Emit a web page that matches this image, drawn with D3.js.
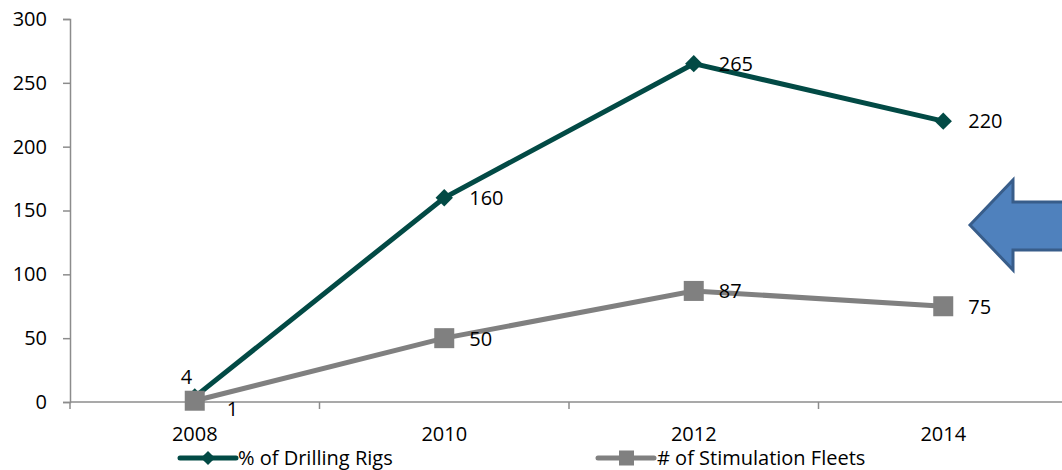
<!DOCTYPE html>
<html>
<head>
<meta charset="utf-8">
<script src="https://cdn.jsdelivr.net/npm/d3@7"></script>
<style>
  html, body { margin: 0; padding: 0; background: #fff; }
  svg { display: block; }
  text { font-family: "Open Sans", "Liberation Sans", sans-serif; fill: #000; }
</style>
</head>
<body>
<svg id="chart" width="1062" height="470"></svg>
<script>
// Chart data
const years = ["2008", "2010", "2012", "2014"];
const drillingRigs = [4, 160, 265, 220];
const stimulationFleets = [1, 50, 87, 75];
const yTicks = [0, 50, 100, 150, 200, 250, 300];
const seriesNames = ["% of Drilling Rigs", "# of Stimulation Fleets"];

const svg = d3.select("#chart");
const plotLeft = 70, plotRight = 1068, plotTop = 19, plotBottom = 402;
const teal = "#024a45", gray = "#808080", axisColor = "#8c8c8c";
const fontSize = 20;

const x = d3.scaleBand().domain(years).range([plotLeft, plotRight]);
const y = d3.scaleLinear().domain([0, 300]).range([plotBottom, plotTop]);
const cx = d => x(d) + x.bandwidth() / 2;

// Y axis
const yAxis = svg.append("g").attr("transform", `translate(${plotLeft},0)`)
  .call(d3.axisLeft(y).tickValues(yTicks).tickSize(7).tickPadding(16));
yAxis.select(".domain").attr("stroke", axisColor).attr("stroke-width", 1.5);
yAxis.selectAll(".tick line").attr("stroke", axisColor).attr("stroke-width", 1.5);
yAxis.selectAll(".tick text").style("font-size", fontSize + "px")
  .style("font-family", "'Open Sans', 'Liberation Sans', sans-serif").attr("fill", "#000");

// X axis: ticks sit between categories
const xAxisG = svg.append("g").attr("transform", `translate(0,${plotBottom})`);
xAxisG.append("line").attr("x1", plotLeft).attr("x2", plotRight).attr("y1", 0).attr("y2", 0)
  .attr("stroke", axisColor).attr("stroke-width", 1.5);
const boundaries = years.map(d => x(d)).concat([plotRight]);
xAxisG.selectAll("line.tk").data(boundaries).join("line").attr("class", "tk")
  .attr("x1", d => d).attr("x2", d => d).attr("y1", 0).attr("y2", 7)
  .attr("stroke", axisColor).attr("stroke-width", 1.5);
xAxisG.selectAll("text").data(years).join("text")
  .attr("x", d => cx(d)).attr("y", 32).attr("dy", "0.35em").attr("text-anchor", "middle")
  .style("font-size", fontSize + "px").text(d => d);

// Series lines
const line = d3.line().x((d, i) => cx(years[i])).y(d => y(d));

svg.append("path").datum(stimulationFleets).attr("d", line)
  .attr("fill", "none").attr("stroke", gray).attr("stroke-width", 5);
svg.append("path").datum(drillingRigs).attr("d", line)
  .attr("fill", "none").attr("stroke", teal).attr("stroke-width", 5);

// Markers
const diamond = d3.symbol().type(d3.symbolSquare).size(150);
svg.selectAll("path.dia").data(drillingRigs).join("path").attr("class", "dia")
  .attr("d", diamond)
  .attr("transform", (d, i) => `translate(${cx(years[i])},${y(d)}) rotate(45)`)
  .attr("fill", teal);
svg.selectAll("rect.sq").data(stimulationFleets).join("rect").attr("class", "sq")
  .attr("x", (d, i) => cx(years[i]) - 10).attr("y", d => y(d) - 10)
  .attr("width", 20).attr("height", 20).attr("fill", gray);

// Value labels (first point labels are offset to avoid overlap)
const rigOffsets = [[-14, -20], [25, 0], [25, 0], [25, 0]];
const fleetOffsets = [[32, 8], [25, 1], [25, 0], [25, 1]];
function labels(vals, offs) {
  svg.append("g").selectAll("text").data(vals).join("text")
    .attr("x", (d, i) => cx(years[i]) + offs[i][0])
    .attr("y", (d, i) => y(d) + offs[i][1])
    .attr("dy", "0.35em")
    .style("font-size", fontSize + "px").text(d => d);
}
labels(drillingRigs, rigOffsets);
labels(stimulationFleets, fleetOffsets);

// Legend
const legend = svg.append("g");
const legY = 458;
const leg1 = legend.append("g").attr("transform", "translate(180,0)");
leg1.append("line").attr("x1", 0).attr("x2", 56).attr("y1", legY).attr("y2", legY)
  .attr("stroke", teal).attr("stroke-width", 5).attr("stroke-linecap", "round");
leg1.append("path").attr("d", d3.symbol().type(d3.symbolSquare).size(100))
  .attr("transform", `translate(28,${legY}) rotate(45)`).attr("fill", teal);
leg1.append("text").attr("x", 58).attr("y", legY).attr("dy", "0.35em")
  .style("font-size", fontSize + "px").text(seriesNames[0]);

const leg2 = legend.append("g").attr("transform", "translate(598,0)");
leg2.append("line").attr("x1", 0).attr("x2", 56).attr("y1", legY).attr("y2", legY)
  .attr("stroke", gray).attr("stroke-width", 5).attr("stroke-linecap", "round");
leg2.append("rect").attr("x", 21).attr("y", legY - 7.5).attr("width", 15).attr("height", 15)
  .attr("fill", gray);
leg2.append("text").attr("x", 59).attr("y", legY).attr("dy", "0.35em")
  .style("font-size", fontSize + "px").text(seriesNames[1]);

// Left-pointing callout arrow at the right edge
svg.append("path")
  .attr("d", "M970,225 L1013,180 L1013,202 L1075,202 L1075,250 L1013,250 L1013,270 Z")
  .attr("fill", "#4f81bd").attr("stroke", "#385d8a").attr("stroke-width", 3)
  .attr("stroke-linejoin", "miter");
</script>
</body>
</html>
